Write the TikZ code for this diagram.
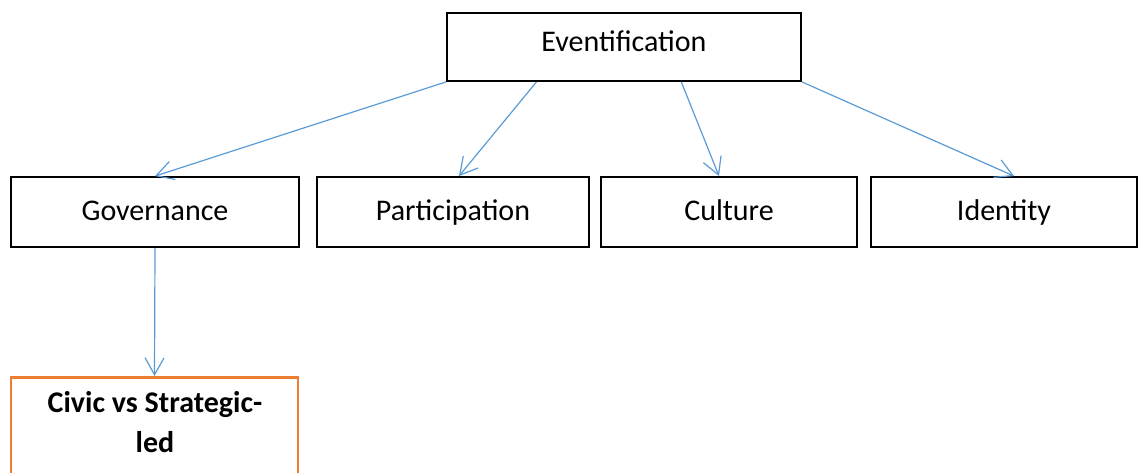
\documentclass[tikz,border=0pt]{standalone}
\usepackage{fontspec}
\setmainfont{Carlito}
\usetikzlibrary{arrows.meta,calc}
\definecolor{linkblue}{HTML}{5B9BD5}
\definecolor{accentorange}{HTML}{ED7D31}
\tikzset{
  box/.style={draw=black, line width=1.8pt, rectangle, inner sep=0pt,
    font=\fontsize{30}{36}\selectfont, text height=20pt, text depth=10pt},
  rowbox/.style={box, minimum height=70pt, text height=20pt, text depth=2pt},
  link/.style={draw=linkblue, line width=1.2pt,
    -{Straight Barb[length=17pt,width=19pt,line width=1.2pt]}},
}
\begin{document}
\begin{tikzpicture}[x=1pt,y=-1pt]
\useasboundingbox (0,0) rectangle (1143,473);
\clip (0,0) rectangle (1143,473);
\node[box, minimum width=354pt, minimum height=68pt] (E) at (624,47) {Eventification};
\node[rowbox, minimum width=288pt] (G) at (155,212) {Governance};
\node[rowbox, minimum width=272pt] (P) at (453,212) {Participation};
\node[rowbox, minimum width=256pt] (C) at (729,212) {Culture};
\node[rowbox, minimum width=266pt] (I) at (1004,212) {Identity};
\node[draw=accentorange, line width=2.6pt, rectangle, inner sep=0pt,
  minimum width=287pt, minimum height=120pt, anchor=north] (S) at (154.5,376) {};
\node[font=\bfseries\fontsize{30}{40}\selectfont, align=center, anchor=base, inner sep=0pt]
  (St) at (155,452) {Civic vs Strategic-\\led};
\draw[link] (E.south west) -- (G.north);
\draw[link] ($(E.south west)!0.254!(E.south east)$) -- ($(P.north)+(6,0)$);
\draw[link] ($(E.south west)!0.661!(E.south east)$) -- ($(C.north)+(-10,0)$);
\draw[link] (E.south east) -- ($(I.north)+(10,0)$);
\draw[link] (G.south) -- (S.north);
\end{tikzpicture}
\end{document}
